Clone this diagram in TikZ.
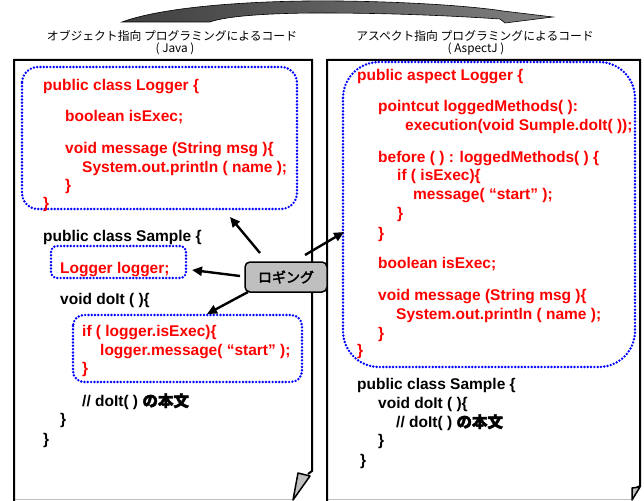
\documentclass[tikz,border=0pt]{standalone}
\usepackage{fontspec}
\setmainfont{Liberation Sans}
\newfontfamily\cjk{Noto Sans CJK JP}
\newfontfamily\cjkb{Noto Sans CJK JP}[FakeBold=2.5]
\usetikzlibrary{arrows.meta}
\definecolor{codered}{RGB}{255,0,0}
\definecolor{dotblue}{RGB}{0,0,255}
\begin{document}
\begin{tikzpicture}[x=1pt,y=-1pt,
  code/.style={anchor=west,inner sep=0pt,text height=11.1pt,text depth=0pt,font=\fontsize{15.5}{18}\selectfont\bfseries},
  red/.style={code,text=codered},
  blk/.style={code,text=black},
  hdr/.style={inner sep=0pt,font=\cjk\fontsize{11.8}{13}\selectfont},
  dotbox/.style={draw=dotblue,line width=2.7pt,dash pattern=on 0pt off 3.3pt,line cap=round},
  pageline/.style={draw=black,line width=2pt,line join=miter},
  callarrow/.style={draw=black,line width=2.4pt,-{Triangle[length=10pt,width=9pt]}},
  callout/.style={draw=black,line width=1.5pt,fill=black!25,rounded corners=5pt,minimum width=82pt,minimum height=30pt,inner sep=0pt,font=\cjkb\fontsize{14}{16}\selectfont}
]
\useasboundingbox (0,0) rectangle (644,500);

% top curved arrow
\path[draw=black,line width=0.6pt,left color=black!75,middle color=black!12,right color=black!50]
  (122,22) .. controls (165,6) and (260,0) .. (340,1)
  .. controls (420,2) and (478,7) .. (503,11)
  -- (553,17) -- (505,23) -- (500,19)
  .. controls (440,15) and (380,13) .. (320,13)
  .. controls (270,13) and (226,16) .. (210,22) -- cycle;

% headers
\node[hdr] (h1) at (172,36) {オブジェクト指向 プログラミングによるコード};
\node[hdr] (h2) at (175,49) {( Java )};
\node[hdr] (h3) at (475,36) {アスペクト指向 プログラミングによるコード};
\node[hdr] (h4) at (476,49) {( AspectJ )};

% pages
\draw[black!25,line width=1pt] (14,499) -- (293,499) (327,499) -- (632,499);
\draw[pageline] (14,501) -- (14,60) -- (312,60) -- (312,471) -- (308,474);
\filldraw[draw=black,line width=1.5pt,fill=black!25,line join=round] (298,473) -- (310,476) -- (293,500) -- cycle;
\draw[pageline] (327,501) -- (327,60) -- (640,60) -- (640,486) -- (636,488);
\filldraw[draw=black,line width=1.5pt,fill=black!25,line join=round] (632,488) -- (640,487) -- (632,500) -- cycle;

% dotted boxes
\draw[dotbox,rounded corners=16pt] (22,67) rectangle (297,209);
\draw[dotbox,rounded corners=6pt] (51,246) rectangle (186,278);
\draw[dotbox,rounded corners=11pt] (73,315) rectangle (302,382);
\draw[dotbox,rounded corners=36pt] (343,62) rectangle (635,367);

% left code
\node[red] (l1) at (43,85) {public class Logger \{};
\node[red] (l2) at (65,116) {boolean isExec;};
\node[red] (l3) at (65,148) {void message (String msg )\{};
\node[red] (l4) at (82,167) {System.out.println ( name );};
\node[red] (l5) at (65,185) {\}};
\node[red] (l6) at (43,203) {\}};
\node[blk] (l7) at (43,236) {public class Sample \{};
\node[red] (l8) at (60,268) {Logger logger;};
\node[blk] (l9) at (60,299) {void doIt ( )\{};
\node[red] (l10) at (82,331) {if ( logger.isExec)\{};
\node[red] (l11) at (100,350) {logger.message( “start” );};
\node[red] (l12) at (82,368) {\}};
\node[blk] (l13) at (82,401) {// doIt( ) {\cjkb の本文}};
\node[blk] (l14) at (60,419) {\}};
\node[blk] (l15) at (43,439) {\}};

% right code
\node[red] (r1) at (357,75) {public aspect Logger \{};
\node[red] (r2) at (378,106) {pointcut loggedMethods( ):};
\node[red] (r3) at (405,125) {execution(void Sumple.doIt( ));};
\node[red] (r4) at (378,157) {before ( ) : loggedMethods( ) \{};
\node[red] (r5) at (397,175) {if ( isExec)\{};
\node[red] (r6) at (413,194) {message( “start” );};
\node[red] (r7) at (397,213) {\}};
\node[red] (r8) at (378,233) {\}};
\node[red] (r9) at (378,263) {boolean isExec;};
\node[red] (r10) at (378,295) {void message (String msg )\{};
\node[red] (r11) at (396,314) {System.out.println ( name );};
\node[red] (r12) at (378,333) {\}};
\node[red] (r13) at (357,350) {\}};
\node[blk] (r14) at (357,384) {public class Sample \{};
\node[blk] (r15) at (378,403) {void doIt ( )\{};
\node[blk] (r16) at (396,422) {// doIt( ) {\cjkb の本文}};
\node[blk] (r17) at (378,440) {\}};
\node[blk] (r18) at (360,460) {\}};

% callout
\node[callout] (log) at (286,277) {ロギング};

\coordinate (s1) at (260,253); \coordinate (t1) at (230,217);
\coordinate (s2) at (240,276); \coordinate (t2) at (192,270);
\coordinate (s3) at (248,292); \coordinate (t3) at (207,314);
\coordinate (s4) at (305,255); \coordinate (t4) at (344,232);
\draw[callarrow] (s1) -- (t1);
\draw[callarrow] (s2) -- (t2);
\draw[callarrow] (s3) -- (t3);
\draw[callarrow] (s4) -- (t4);
\end{tikzpicture}
\end{document}
